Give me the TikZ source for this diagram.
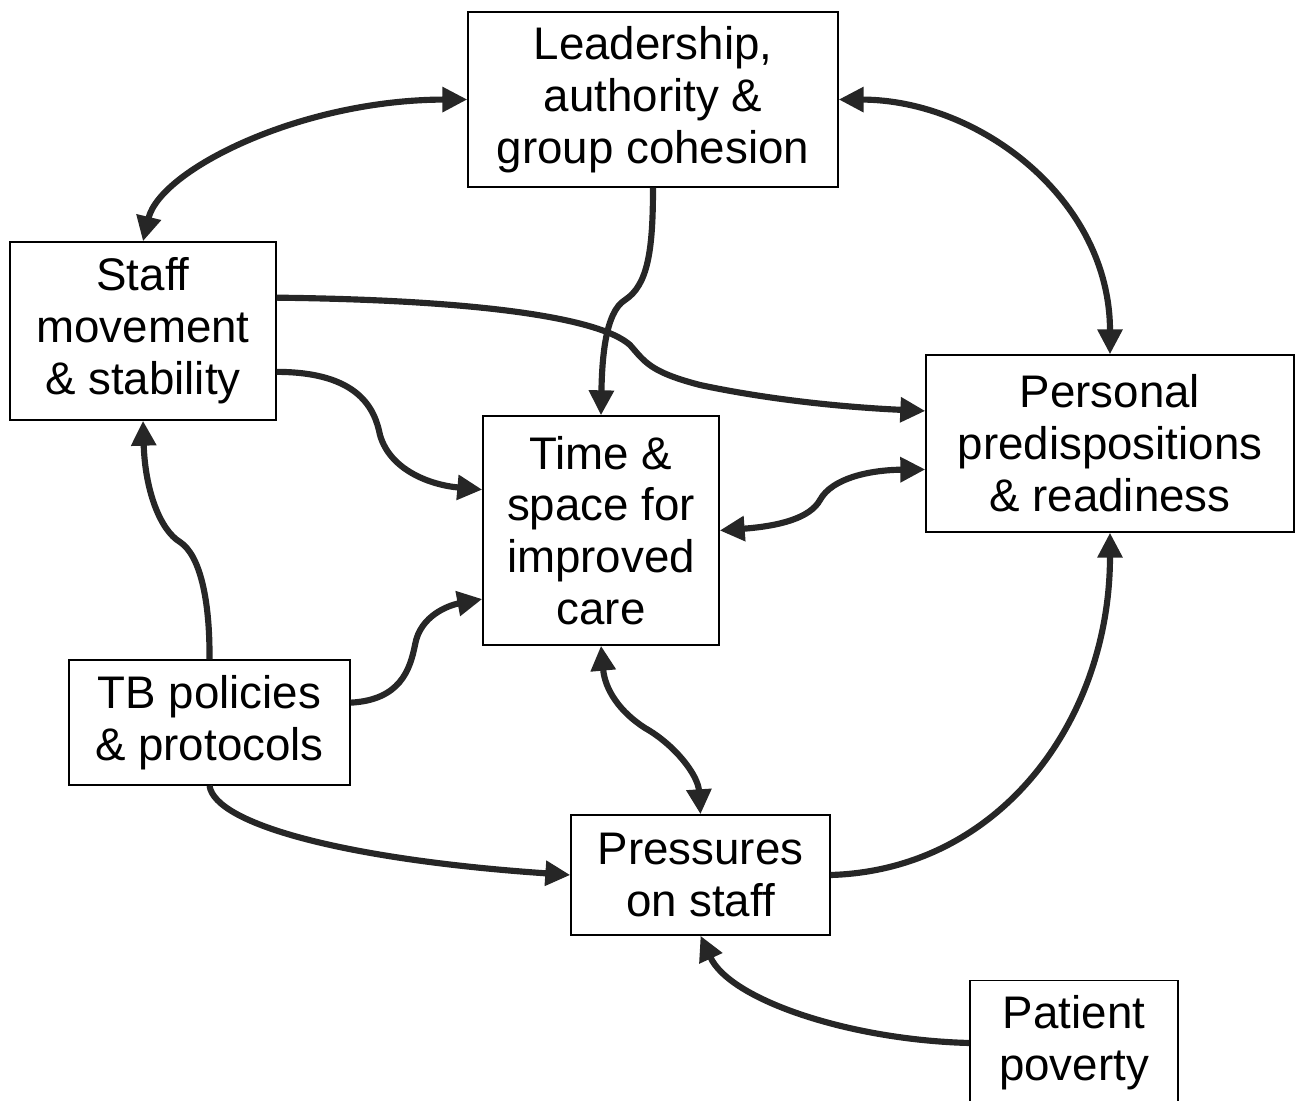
\documentclass[tikz,border=0pt]{standalone}
\usepackage{fontspec}
\setmainfont{Liberation Sans}
\usepackage{tikz}
\usetikzlibrary{arrows.meta}

\begin{document}
\begin{tikzpicture}[x=0.02cm, y=-0.02cm,
  box/.style={draw, line width=0.8pt, align=center, inner sep=0pt,
    font=\fontsize{26}{29.5}\selectfont},
  link/.style={line width=3.5pt, draw=black!85,
    arrows={-Triangle[length=0.5cm, width=0.48cm]}},
  biglink/.style={link, arrows={Triangle[length=0.5cm, width=0.48cm]-Triangle[length=0.5cm, width=0.48cm]}}]
\useasboundingbox (0,0) rectangle (1296,1101);

% Boxes
\node[box, minimum width=7.4cm, minimum height=3.5cm] (lead) at (653,99.5) {Leadership,\\authority \&\\group cohesion};
\node[box, minimum width=5.32cm, minimum height=3.56cm] (staff) at (143,331) {Staff\\movement\\\& stability};
\node[box, minimum width=7.36cm, minimum height=3.54cm] (pers) at (1110,443.5) {Personal\\predispositions\\\& readiness};
\node[box, minimum width=4.72cm, minimum height=4.58cm] (time) at (601,530.5) {Time \&\\space for\\improved\\care};
\node[box, minimum width=5.62cm, minimum height=2.5cm] (tb) at (209.5,722.5) {TB policies\\\& protocols};
\node[box, minimum width=5.18cm, minimum height=2.4cm] (press) at (700.5,875) {Pressures\\on staff};
\node[box, minimum width=4.16cm, minimum height=2.5cm] (pat) at (1074,1043) {Patient\\poverty};

% Two-way links
\draw[biglink] (lead.west) .. controls (300,100) and (160,170) .. (staff.north);
\draw[biglink] (lead.east) .. controls (980,100) and (1110,200) .. (pers.north);
\draw[biglink] (time.east) .. controls (780,526) and (810,518) .. (820,500)
  .. controls (832,478) and (870,470) .. (pers.188);
\draw[biglink] (time.south) .. controls (605,690) and (620,712) .. (645,728)
  .. controls (675,745) and (698,775) .. (press.north);

% One-way links
\draw[link] (lead.south) .. controls (653,250) and (648,285) .. (625,300)
  .. controls (605,312) and (602,360) .. (time.north);
\draw[link] (staff.14) .. controls (480,300) and (600,318) .. (630,345)
  .. controls (645,362) and (650,372) .. (700,385)
  .. controls (780,402) and (860,408) .. (pers.170);
\draw[link] (staff.-17) .. controls (360,372) and (375,410) .. (380,435)
  .. controls (390,470) and (430,485) .. (time.161);
\draw[link] (tb.north) .. controls (210,600) and (200,555) .. (180,542)
  .. controls (160,530) and (145,490) .. (staff.south);
\draw[link] (tb.8) .. controls (400,700) and (410,670) .. (415,645)
  .. controls (420,615) and (450,605) .. (time.210);
\draw[link] (tb.south) .. controls (215,825) and (350,860) .. (press.west);
\draw[link] (press.east) .. controls (1000,870) and (1110,720) .. (pers.south);
\draw[link] (pat.west) .. controls (850,1040) and (730,1000) .. (press.south);
\end{tikzpicture}
\end{document}
